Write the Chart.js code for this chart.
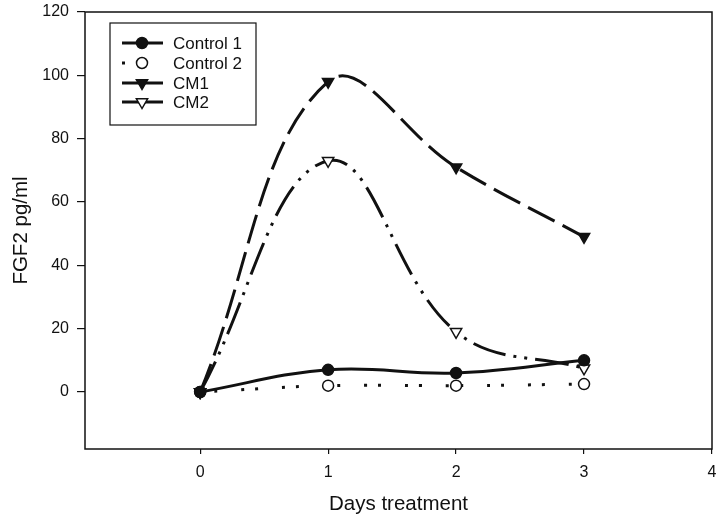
<!DOCTYPE html>
<html>
<head>
<meta charset="utf-8">
<script src="https://cdn.jsdelivr.net/npm/chart.js@4/dist/chart.umd.min.js"></script>
<style>
  html, body { margin: 0; padding: 0; background: #fff; }
  #wrap { width: 720px; height: 517px; }
</style>
</head>
<body>
<div id="wrap"><canvas id="c" width="720" height="517"></canvas></div>
<script>
const days = [0, 1, 2, 3];
const control1 = [0, 7, 6, 10];
const control2 = [0, 2, 2, 2.5];
const cm1 = [0, 98, 71, 49];
const cm2 = [0, 73, 19, 7.5];
const xTicks = [0, 1, 2, 3, 4];
const yTicks = [0, 20, 40, 60, 80, 100, 120];
const seriesNames = ['Control 1', 'Control 2', 'CM1', 'CM2'];

const pts = arr => arr.map((v, i) => ({ x: days[i], y: v }));
const INK = '#111';
const FONT = '"Liberation Sans", Arial, sans-serif';

const styles = [
  { dash: [], pointStyle: 'circle', fill: INK, radius: 5.5, rot: 0 },
  { dash: [3, 11, 3, 24], pointStyle: 'circle', fill: '#fff', radius: 5.5, rot: 0 },
  { dash: [30, 9], pointStyle: 'triangle', fill: INK, radius: 6.5, rot: 180 },
  { dash: [34, 8, 3, 8, 3, 8], pointStyle: 'triangle', fill: '#fff', radius: 6.5, rot: 180 }
];
const seriesData = [control1, control2, cm1, cm2];

const datasets = seriesData.map((arr, i) => ({
  label: seriesNames[i],
  data: pts(arr),
  borderColor: INK,
  borderWidth: 3,
  borderDash: styles[i].dash,
  tension: 0.4,
  pointStyle: styles[i].pointStyle,
  pointRotation: styles[i].rot,
  pointRadius: styles[i].radius,
  pointBackgroundColor: styles[i].fill,
  pointBorderColor: INK,
  pointBorderWidth: 1.5,
  fill: false,
  clip: false
}));

function drawMarker(ctx, st, x, y) {
  ctx.save();
  ctx.fillStyle = st.fill;
  ctx.strokeStyle = INK;
  ctx.lineWidth = 1.5;
  ctx.setLineDash([]);
  ctx.beginPath();
  if (st.pointStyle === 'circle') {
    ctx.arc(x, y, st.radius, 0, Math.PI * 2);
  } else {
    const r = st.radius;
    ctx.moveTo(x, y + r);
    ctx.lineTo(x - r * 0.866, y - r * 0.5);
    ctx.lineTo(x + r * 0.866, y - r * 0.5);
    ctx.closePath();
  }
  ctx.fill();
  ctx.stroke();
  ctx.restore();
}

const framePlugin = {
  id: 'frameAndLegend',
  afterDraw(chart) {
    const { ctx, chartArea: a } = chart;
    ctx.save();
    ctx.strokeStyle = INK;
    ctx.lineWidth = 1.5;
    ctx.setLineDash([]);
    ctx.strokeRect(a.left, a.top, a.right - a.left, a.bottom - a.top);
    // legend box
    const bx = 110, by = 23, bw = 146, bh = 102;
    ctx.fillStyle = '#fff';
    ctx.fillRect(bx, by, bw, bh);
    ctx.lineWidth = 1.2;
    ctx.strokeRect(bx, by, bw, bh);
    const rows = [43, 63, 83, 102];
    ctx.font = '17px ' + FONT;
    ctx.textBaseline = 'middle';
    seriesNames.forEach((name, i) => {
      const y = rows[i];
      ctx.strokeStyle = INK;
      ctx.lineWidth = 3;
      ctx.setLineDash([]);
      ctx.beginPath();
      if (i === 1) {
        ctx.moveTo(122, y); ctx.lineTo(125, y);
      } else {
        ctx.moveTo(122, y); ctx.lineTo(163, y);
      }
      ctx.stroke();
      drawMarker(ctx, styles[i], 142, y);
      ctx.fillStyle = INK;
      ctx.fillText(name, 173, y + 1);
    });
    ctx.restore();
  }
};

new Chart(document.getElementById('c'), {
  type: 'line',
  data: { datasets },
  options: {
    responsive: false,
    animation: false,
    layout: { padding: { top: 12, right: 7, left: 0, bottom: 0 } },
    plugins: { legend: { display: false }, tooltip: { enabled: false } },
    scales: {
      x: {
        type: 'linear',
        min: -0.9,
        max: 4,
        afterBuildTicks: s => { s.ticks = xTicks.map(v => ({ value: v })); },
        afterFit: s => { s.height = 68; s.paddingRight = 0; s.paddingLeft = 0; },
        grid: { drawOnChartArea: false, tickLength: 5, color: INK, lineWidth: 1.2 },
        border: { display: false },
        ticks: { color: INK, padding: 9, font: { family: FONT, size: 16 }, maxRotation: 0 },
        title: { display: true, text: 'Days treatment', color: INK, padding: { top: 0, bottom: 0 }, font: { family: FONT, size: 20.5 } }
      },
      y: {
        type: 'linear',
        min: -18,
        max: 120,
        afterBuildTicks: s => { s.ticks = yTicks.map(v => ({ value: v })); },
        afterFit: s => { s.width = 85; s.paddingTop = 0; s.paddingBottom = 0; },
        grid: { drawOnChartArea: false, tickLength: 8, color: INK, lineWidth: 1.2 },
        border: { display: false },
        ticks: { color: INK, padding: 8, font: { family: FONT, size: 16 } },
        title: { display: true, text: 'FGF2 pg/ml', color: INK, padding: { top: 9, bottom: 0 }, font: { family: FONT, size: 20.5 } }
      }
    }
  },
  plugins: [framePlugin]
});
</script>
</body>
</html>
